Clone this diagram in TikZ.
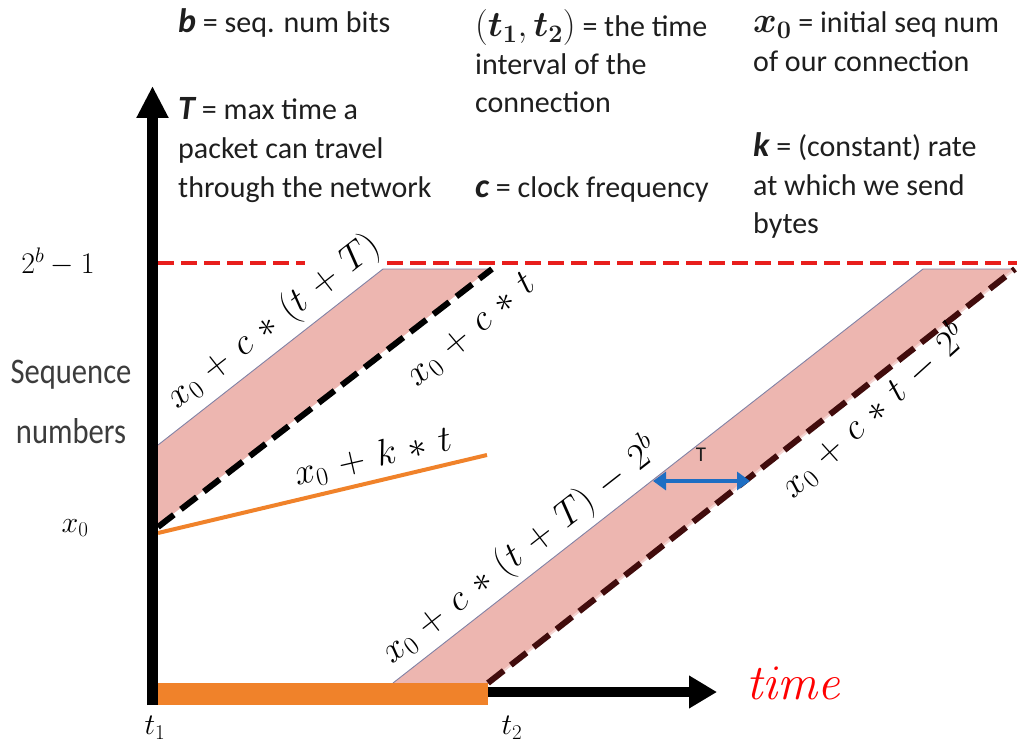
\RequirePackage{fix-cm}
\documentclass[tikz,border=0pt]{standalone}
\usepackage{amsmath,bm}
\usepackage[no-math]{fontspec}
\setmainfont{Carlito}
\usetikzlibrary{arrows.meta}
\definecolor{pinkband}{RGB}{237,182,176}
\definecolor{edgegray}{RGB}{130,130,165}
\definecolor{redline}{RGB}{232,30,28}
\definecolor{orangec}{RGB}{240,130,42}
\definecolor{maroonc}{RGB}{65,12,12}
\definecolor{bluec}{RGB}{30,110,195}
\definecolor{txtc}{RGB}{30,30,30}
\definecolor{seqc}{RGB}{60,60,60}
\newcommand{\ml}[1]{$\medmuskip=6mu #1$}
\newcommand{\bigb}[1]{{\fontsize{34}{38}\selectfont\bfseries\itshape #1}}
\begin{document}
\begin{tikzpicture}[x=1pt,y=-1pt,
  txt/.style={anchor=base west, inner sep=0pt, text=txtc, font=\fontsize{30}{38}\selectfont},
  mlab/.style={inner sep=0pt, font=\fontsize{37}{40}\selectfont},
  axlab/.style={inner sep=0pt, font=\fontsize{30}{36}\selectfont},
  band/.style={fill=pinkband, draw=none},
  edgeline/.style={draw=edgegray, line width=0.9pt},
  gapline/.style={draw=white, line width=2pt},
  dashblack/.style={draw=black, line width=6pt, dash pattern=on 20pt off 9pt},
  dashmaroon/.style={draw=maroonc, line width=6pt, dash pattern=on 20pt off 9pt},
  reddash/.style={draw=redline, line width=4pt, dash pattern=on 16pt off 7pt},
  axis/.style={draw=black, line width=11pt},
  seq/.style={inner sep=0pt, anchor=base, text=seqc, font=\fontsize{36}{40}\selectfont}
]
\useasboundingbox (0,0) rectangle (1017,749);

% left band
\coordinate (A1) at (158,527);
\coordinate (A2) at (492,269);
\coordinate (A3) at (383,269);
\coordinate (A4) at (158,445);
\fill[band] (A1)--(A2)--(A3)--(A4)--cycle;
\draw[edgeline] (A4)--(A3)--(A2);
\draw[gapline] (A1)--(A2);
\draw[dashblack] (A1)--(A2);

% right band
\coordinate (B1) at (488,683);
\coordinate (B2) at (1015,269);
\coordinate (B3) at (923,269);
\coordinate (B4) at (393,683);
\fill[band] (B1)--(B2)--(B3)--(B4)--cycle;
\draw[edgeline] (B4)--(B3)--(B2);
\draw[draw=pinkband!60!white, line width=2pt] (B1)--(B2);
\draw[dashmaroon] (B1)--(B2);

% red dashed max line
\coordinate (R1) at (158,263);
\coordinate (R2) at (305,263);
\coordinate (R3) at (387,263);
\coordinate (R4) at (1017,263);
\draw[reddash] (R1)--(R2);
\draw[reddash] (R3)--(R4);

% orange rate line
\coordinate (O1) at (158,533);
\coordinate (O2) at (487,455);
\draw[orangec, line width=4pt] (O1)--(O2);

% axes
\coordinate (xorig) at (147,692);
\coordinate (xend) at (717,692);
\draw[draw=black, line width=10pt, -{Triangle[length=28pt,width=31pt]}] (xorig)--(xend);
\coordinate (yorig) at (152.5,705);
\coordinate (ytop) at (152.5,86);
\draw[axis, -{Triangle[length=32pt,width=30pt]}] (yorig)--(ytop);
\fill[orangec] (158,683) rectangle (488,705);

% T arrow
\coordinate (Ta) at (653,481);
\coordinate (Tb) at (750,481);
\draw[bluec, line width=4pt, {Triangle[length=13pt,width=18pt]}-{Triangle[length=13pt,width=18pt]}] (Ta)--(Tb);
\node[inner sep=0pt, font=\fontsize{21}{24}\selectfont, text=txtc] (Tlab) at (701,455) {T};

% slanted labels
\node[mlab, rotate=38] (l1) at (274,322) {\ml{x_0 + c \ast (t + T)}};
\node[mlab, rotate=40] (l2) at (472,331) {\ml{x_0 + c \ast t}};
\node[mlab, rotate=13] (l3) at (373,458) {\ml{x_0 + k \ast t}};
\node[mlab, rotate=38] (l4) at (520,551) {\ml{x_0 + c \ast (t + T) - 2^b}};
\node[mlab, rotate=42] (l5) at (873,410) {\ml{x_0 + c \ast t - 2^b}};

% axis labels
\node[axlab] (lmax) at (58,262) {$2^b - 1$};
\node[axlab] (lx0) at (75,528) {$x_0$};
\node[axlab] (lt1) at (155,728) {$t_1$};
\node[axlab] (lt2) at (512,728) {$t_2$};
\node[seq] (s1) at (71,383) {\scalebox{0.85}[1]{Sequence}};
\node[seq] (s2) at (71,443) {\scalebox{0.85}[1]{numbers}};
\node[inner sep=0pt, text=red, font=\fontsize{50}{50}\selectfont] (time) at (795,683) {$\mathit{time}$};

% legend texts
\node[txt] (tb) at (178,33) {\bigb{b} = seq. num bits};
\node[txt] (tT1) at (178,120) {\bigb{T} = max time a};
\node[txt] (tT2) at (178,158) {packet can travel};
\node[txt] (tT3) at (178,197) {through the network};
\node[txt] (tt1) at (475,37) {{\fontsize{36}{38}\selectfont$(\bm{t_1},\bm{t_2})$} = the time};
\node[txt] (tt2) at (475,75) {interval of the};
\node[txt] (tt3) at (475,113) {connection};
\node[txt] (tc) at (475,197) {\bigb{c} = clock frequency};
\node[txt] (tx1) at (753,33) {{\fontsize{36}{38}\selectfont$\bm{x_0}$} = initial seq num};
\node[txt] (tx2) at (753,72) {of our connection};
\node[txt] (tk1) at (753,157) {\bigb{k} = (constant) rate};
\node[txt] (tk2) at (753,195) {at which we send};
\node[txt] (tk3) at (753,233) {bytes};
\end{tikzpicture}
\end{document}
